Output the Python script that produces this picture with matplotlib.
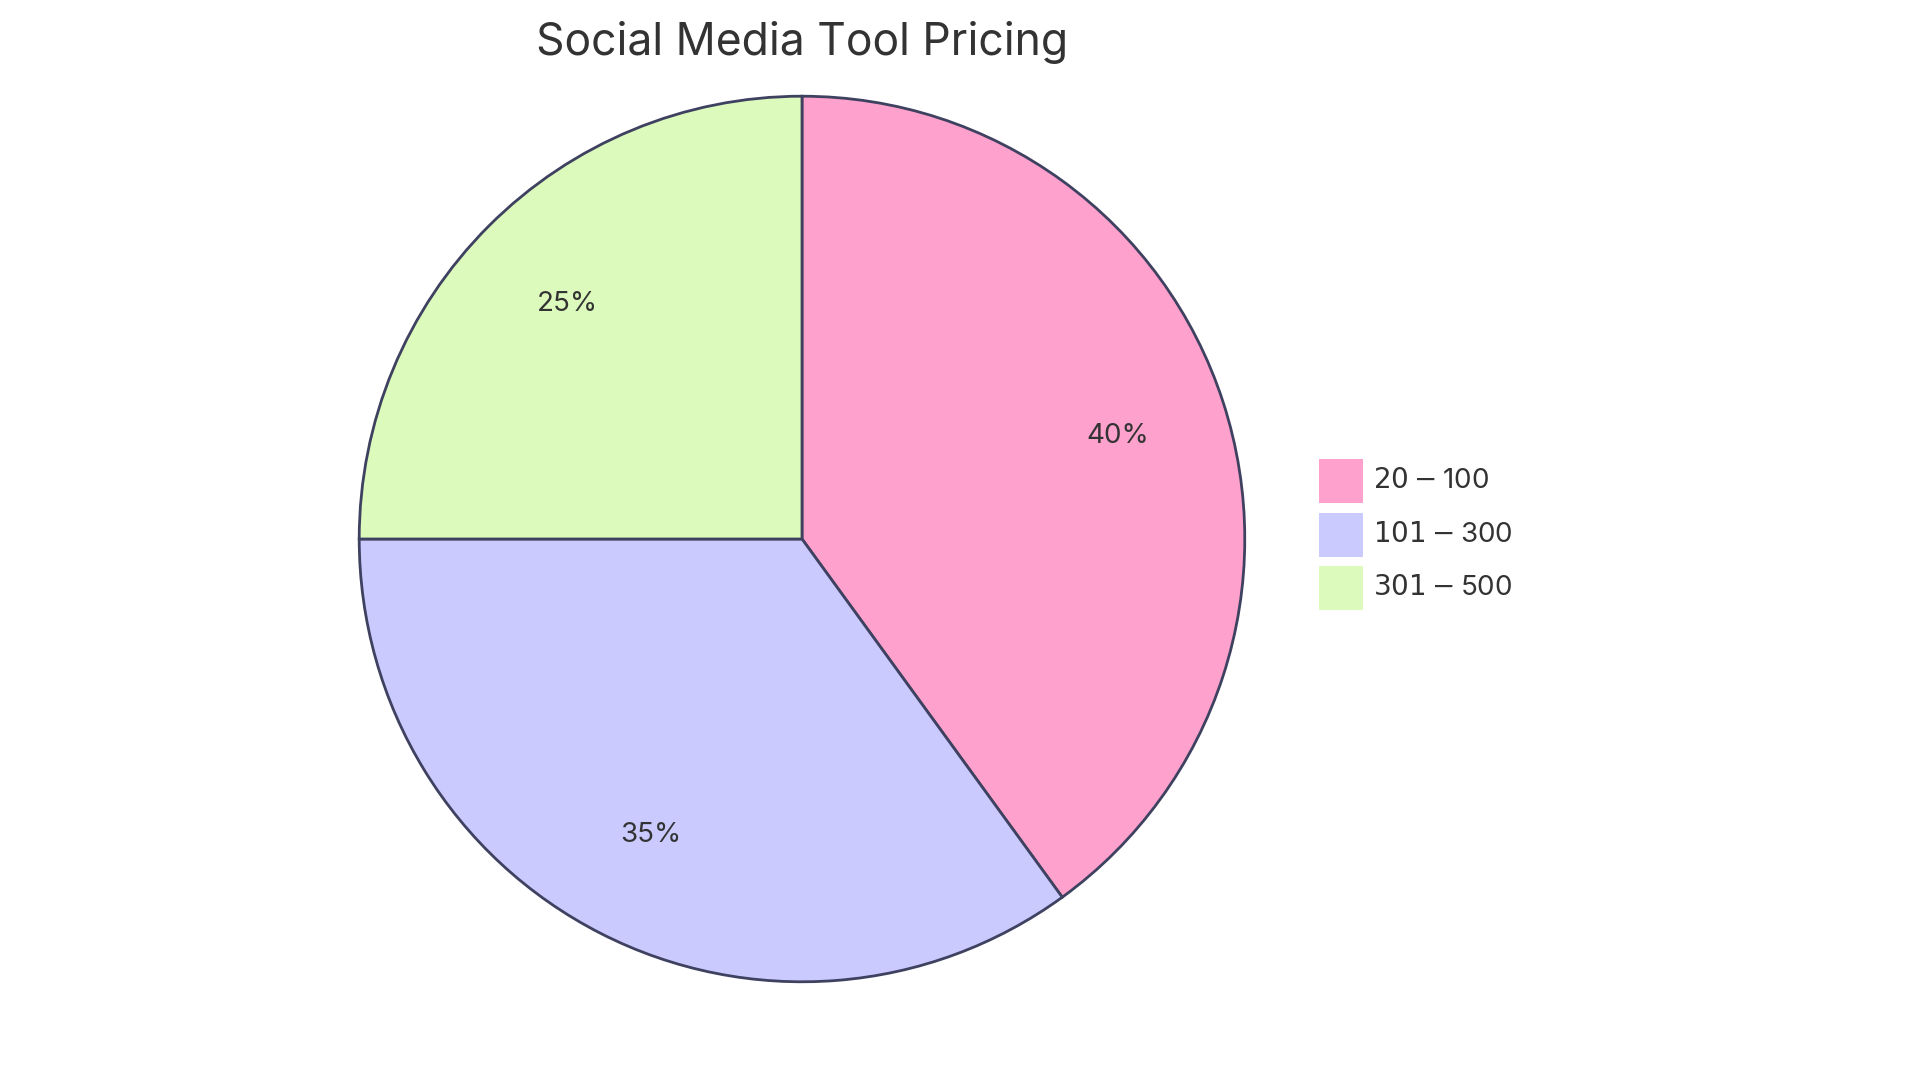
import matplotlib
matplotlib.use("Agg")
import matplotlib.pyplot as plt
from matplotlib.patches import Rectangle

labels = ["$20-$100", "$101-$300", "$301-$500"]
values = [40, 35, 25]
colors = ["#FFA1CD", "#CACAFF", "#DCFABC"]
edge = "#3F4160"
text_color = "#333333"

plt.rcParams['font.family'] = ['Inter', 'DejaVu Sans']
W, H = 1920, 1083
fig = plt.figure(figsize=(19.2, 10.83), dpi=100)
cx, cy, r = 802, 539, 445
ax = fig.add_axes([(cx - r) / W, 1 - (cy + r) / H, 2 * r / W, 2 * r / H])
ax.pie(values, colors=colors, startangle=90, counterclock=False,
       autopct='%d%%', pctdistance=0.75, radius=1,
       wedgeprops=dict(edgecolor=edge, linewidth=2),
       textprops=dict(color=text_color, fontsize=20))
ax.set_xlim(-1.005, 1.005); ax.set_ylim(-1.005, 1.005)
ax.set_aspect('equal')
ax.axis('off')

fig.text(cx / W, 1 - 43 / H, "Social Media Tool Pricing", ha='center', va='center',
         fontsize=32, color=text_color)

sq = 44
for i, (lab, c) in enumerate(zip(labels, colors)):
    yc = 481 + i * 53.5
    fig.patches.append(Rectangle((1319 / W, 1 - (yc + sq / 2) / H), sq / W, sq / H,
                                 transform=fig.transFigure, facecolor=c, edgecolor='none'))
    fig.text(1373 / W, 1 - yc / H, lab, ha='left', va='center', fontsize=20, color=text_color)

fig.savefig("out.png", dpi=100, facecolor='white')
